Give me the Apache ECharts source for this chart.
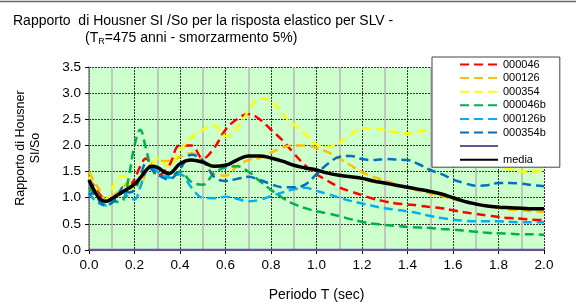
<!DOCTYPE html>
<html>
<head>
<meta charset="utf-8">
<script src="https://cdn.jsdelivr.net/npm/echarts@6/dist/echarts.min.js"></script>
<style>
    html, body {margin: 0; padding: 0; background: #fff;}
    #chartmain {width: 576px; height: 304px;}
</style>
</head>
<body>
<div id="chartmain"></div>
<script>
// periodi T (sec)
var periods = [0, 0.025, 0.05, 0.075, 0.1, 0.125, 0.15, 0.175, 0.2, 0.225, 0.25, 0.275, 0.3,
    0.35, 0.4, 0.45, 0.5, 0.55, 0.6, 0.65, 0.7, 0.75, 0.8, 0.85, 0.9, 0.95, 1.0,
    1.05, 1.1, 1.15, 1.2, 1.25, 1.3, 1.35, 1.4, 1.45, 1.5, 1.55, 1.6, 1.65, 1.7,
    1.75, 1.8, 1.85, 1.9, 1.95, 2.0]

var s000046 = [1.37, 1.2, 1.05, 0.95, 0.98, 1.05, 1.1, 1.2, 1.35, 1.6, 1.75, 1.6, 1.42,
    1.6, 2.0, 2.0, 1.75, 1.95, 2.3, 2.5, 2.6, 2.5, 2.3, 2.1, 1.85, 1.62, 1.45,
    1.32, 1.2, 1.12, 1.05, 0.98, 0.93, 0.89, 0.87, 0.85, 0.82, 0.8, 0.76, 0.72, 0.69,
    0.66, 0.63, 0.61, 0.6, 0.58, 0.57]
var s000126 = [1.5, 1.3, 1.12, 0.95, 1.02, 1.1, 1.2, 1.3, 1.3, 1.22, 1.5, 1.65, 1.7,
    1.7, 1.78, 1.85, 1.7, 1.45, 1.42, 1.6, 1.72, 1.76, 1.86, 1.96, 2.0, 2.0, 1.95,
    1.87, 1.75, 1.62, 1.49, 1.4, 1.33, 1.26, 1.19, 1.13, 1.08, 1.03, 0.97, 0.93, 0.88,
    0.84, 0.8, 0.77, 0.76, 0.74, 0.73]
var s000354 = [1.4, 1.15, 1.0, 0.95, 1.15, 1.35, 1.42, 1.3, 1.15, 1.3, 1.5, 1.6, 1.75,
    1.6, 1.9, 2.15, 2.3, 2.38, 2.18, 2.33, 2.65, 2.9, 2.85, 2.6, 2.4, 2.22, 2.02,
    1.97, 2.05, 2.2, 2.33, 2.33, 2.29, 2.25, 2.23, 2.26, 2.3, 2.28, 2.2, 2.05, 1.9,
    1.75, 1.62, 1.55, 1.5, 1.5, 1.52]
var s000046b = [1.2, 1.05, 0.95, 0.9, 0.95, 0.92, 0.95, 1.4, 2.0, 2.3, 1.95, 1.55, 1.45,
    1.4, 1.5, 1.3, 1.25, 1.47, 1.58, 1.6, 1.5, 1.32, 1.15, 1.0, 0.88, 0.8, 0.74,
    0.7, 0.65, 0.59, 0.54, 0.5, 0.48, 0.46, 0.44, 0.43, 0.42, 0.4, 0.39, 0.37, 0.35,
    0.33, 0.32, 0.31, 0.3, 0.3, 0.29]
var s000126b = [1.1, 0.95, 0.88, 0.85, 0.92, 1.05, 1.1, 1.0, 0.97, 1.2, 1.5, 1.6, 1.5,
    1.38, 1.45, 1.2, 1.0, 0.99, 1.02, 0.98, 0.93, 0.96, 1.03, 1.1, 1.16, 1.19, 1.13,
    1.07, 1.0, 0.94, 0.89, 0.84, 0.8, 0.77, 0.74, 0.7, 0.65, 0.61, 0.58, 0.56, 0.55,
    0.55, 0.55, 0.54, 0.53, 0.53, 0.53]
var s000354b = [1.05, 1.1, 0.9, 0.85, 0.9, 1.0, 1.2, 1.1, 1.15, 1.4, 1.65, 1.55, 1.45,
    1.35, 1.55, 1.82, 1.72, 1.4, 1.32, 1.36, 1.4, 1.34, 1.26, 1.2, 1.2, 1.25, 1.45,
    1.65, 1.78, 1.8, 1.74, 1.72, 1.74, 1.73, 1.72, 1.64, 1.53, 1.45, 1.35, 1.28, 1.23,
    1.24, 1.28, 1.28, 1.27, 1.24, 1.22]
var zero = [0, 0, 0, 0, 0, 0, 0, 0, 0, 0, 0, 0, 0, 0, 0, 0, 0, 0, 0, 0, 0, 0, 0, 0,
    0, 0, 0, 0, 0, 0, 0, 0, 0, 0, 0, 0, 0, 0, 0, 0, 0, 0, 0, 0, 0, 0, 0]
var media = [1.34, 1.12, 0.97, 0.93, 0.98, 1.05, 1.12, 1.18, 1.26, 1.38, 1.52, 1.6, 1.58,
    1.46, 1.65, 1.72, 1.68, 1.6, 1.62, 1.72, 1.8, 1.8, 1.76, 1.7, 1.62, 1.57, 1.53,
    1.47, 1.43, 1.4, 1.37, 1.32, 1.28, 1.24, 1.2, 1.16, 1.12, 1.07, 1.0, 0.93, 0.88,
    0.84, 0.82, 0.81, 0.8, 0.79, 0.79]

var names = ['000046', '000126', '000354', '000046b', '000126b', '000354b', ' ', 'media']
var values = [s000046, s000126, s000354, s000046b, s000126b, s000354b, zero, media]
var colors = ['#ff0000', '#ffc000', '#ffff00', '#00b050', '#00b0f0', '#0070c0', '#65549a', '#000000']

function pairs(arr) {
    var out = []
    for (let i = 0; i < periods.length; i++) {
        out.push([periods[i], arr[i]])
    }
    return out
}

var series = []
for (let i = 0; i < names.length; i++) {
    var solid = i >= 6
    series.push({
        name: names[i],
        type: 'line',
        data: pairs(values[i]),
        smooth: 0.4,
        symbol: 'none',
        showSymbol: false,
        color: colors[i],
        z: i == 7 ? 5 : 3,
        lineStyle: {
            color: colors[i],
            width: i == 7 ? 3.5 : 2.5,
            type: solid ? 'solid' : [9, 5]
        }
    })
}

var font = 'Liberation Sans, Arial, sans-serif'
var myChart = echarts.init(document.getElementById('chartmain'))
myChart.setOption({
    animation: false,
    backgroundColor: '#fff',
    textStyle: {fontFamily: font},
    title: [{
        text: 'Rapporto  di Housner SI /So per la risposta elastico per SLV -',
        left: 13, top: 14, padding: 0,
        textStyle: {fontSize: 14, fontWeight: 'normal', color: '#000', fontFamily: font}
    }, {
        text: '(T{sub|R}=475 anni - smorzarmento 5%)',
        left: 85, top: 30, padding: 0,
        textStyle: {
            fontSize: 14, fontWeight: 'normal', color: '#000', fontFamily: font,
            rich: {sub: {fontSize: 9, verticalAlign: 'bottom', padding: [7, 0, 0, 0], fontFamily: font}}
        }
    }],
    graphic: [{
        type: 'line', shape: {x1: 0, y1: 1.5, x2: 576, y2: 1.5},
        style: {stroke: '#666', lineWidth: 1.5}
    }, {
        type: 'text', x: 28, y: 148, rotation: Math.PI / 2,
        style: {
            text: 'Rapporto di Housner\nSI/So', fill: '#000', font: '12.5px ' + font,
            align: 'center', verticalAlign: 'middle', lineHeight: 15
        }
    }],
    legend: {
        orient: 'vertical',
        left: 432, top: 57,
        padding: [2, 14, 2, 27],
        backgroundColor: '#fff',
        borderColor: '#444',
        borderWidth: 1,
        itemWidth: 38, itemHeight: 10, itemGap: 2.6,
        itemStyle: {opacity: 0},
        data: names,
        textStyle: {fontSize: 11, color: '#000', fontFamily: font}
    },
    grid: {
        left: 89, right: 32, top: 67, bottom: 54,
        outerBoundsMode: 'none',
        show: true, backgroundColor: '#ccffcc', borderWidth: 0
    },
    xAxis: {
        type: 'value', min: 0, max: 2, interval: 0.2,
        name: 'Periodo T (sec)', nameLocation: 'middle', nameGap: 38,
        nameTextStyle: {fontSize: 14, color: '#000', fontFamily: font},
        axisLine: {lineStyle: {color: '#65549a', width: 2}},
        axisTick: {show: true, length: 4, inside: false, lineStyle: {color: '#000'}},
        axisLabel: {fontSize: 13.5, color: '#000', margin: 8, formatter: function (v) { return v.toFixed(1) }},
        splitLine: {show: true, lineStyle: {color: '#333', type: [2, 1], width: 1}},
        minorTick: {show: false, splitNumber: 2},
        minorSplitLine: {show: true, lineStyle: {color: '#b8b8b8', width: 1.5}}
    },
    yAxis: {
        type: 'value', min: 0, max: 3.5, interval: 0.5,
        axisLine: {show: true, lineStyle: {color: '#808080', width: 1.5}},
        axisTick: {show: true, length: 4, lineStyle: {color: '#000'}},
        axisLabel: {fontSize: 13.5, color: '#000', margin: 8, formatter: function (v) { return v.toFixed(1) }},
        splitLine: {show: true, lineStyle: {color: '#333', type: [2, 1], width: 1}}
    },
    series: series
})
</script>
</body>
</html>
